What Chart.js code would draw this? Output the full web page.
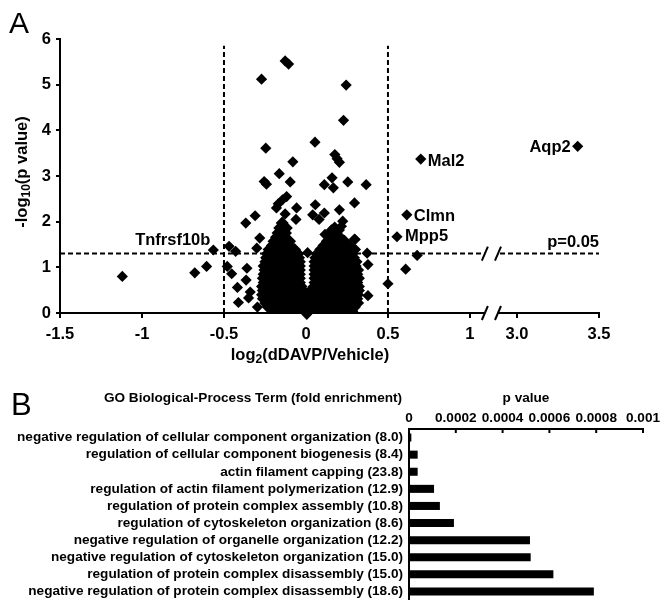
<!DOCTYPE html>
<html>
<head>
<meta charset="utf-8">
<script src="https://cdn.jsdelivr.net/npm/chart.js@4.4.1/dist/chart.umd.min.js"></script>
<style>
  body { margin: 0; background: #fff; }
  #wrap { position: relative; width: 661px; height: 600px; }
  canvas { position: absolute; left: 0; }
  #volcano { top: 0; }
  #goBars { top: 370px; }
</style>
</head>
<body>
<div id="wrap">
  <canvas id="volcano" width="661" height="370"></canvas>
  <canvas id="goBars" width="661" height="230"></canvas>
</div>
<script>
// ---------- Panel A : volcano ----------
const geneNames = ['Aqp2', 'Mal2', 'Clmn', 'Mpp5', 'Tnfrsf10b'];
const geneFC    = [3.37, 0.70, 0.615, 0.555, -0.565];
const geneLogP  = [3.65, 3.37, 2.15, 1.67, 1.38];

// isolated proteins
const otherFC = [-0.127, -0.106, -0.271, 0.245, 0.229, -0.245, 0.055, 0.176, 0.19, 0.204,
  -0.08, -0.163, -0.255, -0.241, -0.096, 0.112, 0.159, 0.167, 0.255, 0.367,
  0.296, -0.169, -0.143, -0.118, -0.18, -0.057, 0.057, 0.204, -0.367, -0.31,
  -0.127, -0.061, 0.041, 0.112, 0.08, 0.224, 0.204, 0.216, 0.155, 0.116, 0.206, 0.296,
  -0.469, -0.429, -0.48, -0.453, -0.418, -0.412, -0.36, -0.365, -0.34, -0.35,
  -0.296, -0.30, -0.282, -0.678, -0.606, -1.12,
  0.378, 0.378, 0.373, 0.30, 0.302, 0.50, 0.608, 0.678, 0.005, 0.01];
const otherLogP = [5.52, 5.45, 5.12, 4.99, 4.22, 3.61, 3.74, 3.47, 3.38, 3.30,
  3.31, 3.05, 2.88, 2.82, 2.87, 2.81, 2.96, 2.74, 2.87, 2.81,
  2.41, 2.39, 2.48, 2.55, 2.30, 2.30, 2.37, 2.26, 1.97, 2.13,
  2.17, 2.05, 2.15, 2.19, 2.05, 2.01, 1.82, 1.90, 1.82, 1.72, 1.68, 1.62,
  1.46, 1.35, 1.02, 0.86, 0.56, 0.23, 0.98, 0.72, 0.46, 0.33,
  0.13, 1.42, 1.64, 0.88, 1.02, 0.80,
  1.06, 0.38, 1.31, 1.61, 1.39, 0.64, 0.96, 1.26, -0.03, 1.32];

// dense cloud, read row by row (one -log10 p level per row)
const blobLogP = [0.04, 0.13, 0.22, 0.31, 0.40, 0.49, 0.58, 0.67, 0.76, 0.85, 0.94,
  1.03, 1.12, 1.21, 1.30, 1.39, 1.48, 1.57, 1.66, 1.75, 1.86, 1.97];
const blobFC = [
  [-0.20, -0.155, -0.10, -0.045, 0.01, 0.065, 0.12, 0.175, 0.23, 0.28],
  [-0.23, -0.185, -0.13, -0.075, -0.02, 0.035, 0.09, 0.145, 0.2, 0.255, 0.295],
  [-0.245, -0.21, -0.155, -0.10, -0.045, 0.01, 0.065, 0.12, 0.175, 0.23, 0.285, 0.315],
  [-0.26, -0.235, -0.18, -0.125, -0.07, -0.015, 0.04, 0.095, 0.15, 0.205, 0.26, 0.31],
  [-0.265, -0.21, -0.155, -0.10, -0.045, 0.0, 0.045, 0.10, 0.155, 0.21, 0.265, 0.315],
  [-0.26, -0.235, -0.18, -0.125, -0.07, -0.02, 0.03, 0.075, 0.13, 0.185, 0.24, 0.295, 0.32],
  [-0.265, -0.21, -0.155, -0.10, -0.03, 0.05, 0.10, 0.155, 0.21, 0.265, 0.32],
  [-0.255, -0.235, -0.18, -0.125, -0.08, -0.04, 0.055, 0.095, 0.15, 0.205, 0.26, 0.31],
  [-0.26, -0.21, -0.155, -0.10, -0.04, 0.055, 0.12, 0.175, 0.23, 0.285, 0.32],
  [-0.255, -0.235, -0.18, -0.125, -0.08, -0.04, 0.055, 0.095, 0.15, 0.205, 0.26, 0.31],
  [-0.25, -0.21, -0.155, -0.10, -0.04, 0.055, 0.12, 0.175, 0.23, 0.285, 0.315],
  [-0.255, -0.235, -0.18, -0.125, -0.08, -0.04, 0.055, 0.095, 0.15, 0.205, 0.26, 0.30],
  [-0.245, -0.21, -0.155, -0.10, -0.04, 0.055, 0.12, 0.175, 0.23, 0.28, 0.305],
  [-0.24, -0.235, -0.18, -0.125, -0.08, -0.045, 0.06, 0.095, 0.15, 0.205, 0.26, 0.29],
  [-0.235, -0.205, -0.15, -0.095, -0.05, 0.07, 0.125, 0.18, 0.235, 0.28],
  [-0.225, -0.18, -0.125, -0.07, 0.09, 0.15, 0.205, 0.255],
  [-0.205, -0.155, -0.105, 0.11, 0.165, 0.22, 0.265],
  [-0.195, -0.15, -0.10, 0.13, 0.185, 0.235],
  [-0.18, -0.135, 0.145, 0.2],
  [-0.17, -0.125, 0.16],
  [-0.16, -0.12, 0.175],
  [-0.145]
];

const xTickValues = [-1.5, -1, -0.5, 0, 0.5, 1, 3.0, 3.5];
const xTickLabels = ['-1.5', '-1', '-0.5', '0', '0.5', '1', '3.0', '3.5'];
const yTickValues = [0, 1, 2, 3, 4, 5, 6];
const foldCutoff = 0.5;
const pCutoff = 1.301;   // -log10(0.05)

// ---------- Panel B : GO terms ----------
const goTerms = [
  'negative regulation of cellular component organization (8.0)',
  'regulation of cellular component biogenesis (8.4)',
  'actin filament capping (23.8)',
  'regulation of actin filament polymerization (12.9)',
  'regulation of protein complex assembly (10.8)',
  'regulation of cytoskeleton organization (8.6)',
  'negative regulation of organelle organization (12.2)',
  'negative regulation of cytoskeleton organization (15.0)',
  'regulation of protein complex disassembly (15.0)',
  'negative regulation of protein complex disassembly (18.6)'
];
const goPValues = [0.00001, 0.000037, 0.000037, 0.000107, 0.000132, 0.000192,
  0.000517, 0.00052, 0.000617, 0.00079];
const goTickValues = [0, 0.0002, 0.0004, 0.0006, 0.0008, 0.001];
const goTickLabels = ['0', '0.0002', '0.0004', '0.0006', '0.0008', '0.001'];

// broken x axis: values beyond the gap are shifted left
const breakShift = 1.713;
function toDisp(v) { return v > 2 ? v - breakShift : v; }

const FONT = "'Liberation Sans', Arial, sans-serif";
const A_SIZE = 16.5;
Chart.defaults.font.family = FONT;
Chart.defaults.color = '#000';

const blobPoints = [];
blobLogP.forEach((p, i) => blobFC[i].forEach(fc => blobPoints.push({ x: fc, y: p })));
const otherPoints = otherFC.map((fc, i) => ({ x: fc, y: otherLogP[i] }));
const genePoints = geneFC.map((fc, i) => ({ x: toDisp(fc), y: geneLogP[i] }));

const diamond = {
  showLine: false, pointStyle: 'rectRot', pointRadius: 5.6,
  pointBackgroundColor: '#000', backgroundColor: '#000', pointBorderWidth: 0,
  clip: false, order: 0
};
const dashed = {
  showLine: true, borderColor: '#000', borderWidth: 2, borderDash: [5, 3],
  pointRadius: 0, fill: false, order: 1
};

function drawRich(ctx, parts, x, y, size) {
  // text with subscripts, centred on x
  const big = 'bold ' + size + 'px ' + FONT;
  const small = 'bold ' + Math.round(size * 0.75) + 'px ' + FONT;
  let w = 0;
  parts.forEach(p => { ctx.font = p.sub ? small : big; p.w = ctx.measureText(p.t).width; w += p.w; });
  let cx = x - w / 2;
  ctx.textAlign = 'left';
  ctx.textBaseline = 'middle';
  parts.forEach(p => {
    ctx.font = p.sub ? small : big;
    ctx.fillText(p.t, cx, p.sub ? y + size * 0.3 : y);
    cx += p.w;
  });
}

// label offsets next to each gene point
const geneLabelPos = [[-7, 1, 'right'], [7, 2, 'left'], [7, 2, 'left'], [8, 0, 'left'], [-3, -10, 'right']];

const volcanoExtras = {
  id: 'volcanoExtras',
  afterDraw(chart) {
    const ctx = chart.ctx, xs = chart.scales.x, ys = chart.scales.y;
    ctx.save();
    // break marks  / /
    const x1 = xs.getPixelForValue(1.091), x2 = xs.getPixelForValue(1.171);
    [ys.getPixelForValue(0), ys.getPixelForValue(pCutoff)].forEach(py => {
      ctx.fillStyle = '#fff';
      ctx.fillRect(x1, py - 3, x2 - x1, 6);
      ctx.strokeStyle = '#000';
      ctx.lineWidth = 2;
      ctx.setLineDash([]);
      [x1, x2].forEach(px => {
        ctx.beginPath();
        ctx.moveTo(px - 3, py + 7);
        ctx.lineTo(px + 3, py - 7);
        ctx.stroke();
      });
    });
    ctx.fillStyle = '#000';
    // gene names
    const meta = chart.getDatasetMeta(2);
    ctx.font = 'bold ' + A_SIZE + 'px ' + FONT;
    ctx.textBaseline = 'middle';
    meta.data.forEach((pt, i) => {
      const o = geneLabelPos[i];
      ctx.textAlign = o[2];
      ctx.fillText(geneNames[i], pt.x + o[0], pt.y + o[1]);
    });
    ctx.textAlign = 'right';
    ctx.fillText('p=0.05', xs.getPixelForValue(xs.max), ys.getPixelForValue(pCutoff) - 11);
    // axis titles
    drawRich(ctx, [{ t: 'log' }, { t: '2', sub: true }, { t: '(dDAVP/Vehicle)' }], 310, 355, A_SIZE);
    ctx.save();
    ctx.translate(22, 172);
    ctx.rotate(-Math.PI / 2);
    drawRich(ctx, [{ t: '-log' }, { t: '10', sub: true }, { t: '(p value)' }], 0, 0, A_SIZE);
    ctx.restore();
    ctx.font = '30px ' + FONT;
    ctx.textAlign = 'left';
    ctx.textBaseline = 'alphabetic';
    ctx.fillText('A', 9, 33);
    ctx.restore();
  }
};

new Chart(document.getElementById('volcano'), {
  type: 'scatter',
  data: {
    datasets: [
      Object.assign({ data: blobPoints }, diamond, { pointRadius: 6.5, clip: { left: false, right: false, top: false, bottom: 0 } }),
      Object.assign({ data: otherPoints }, diamond),
      Object.assign({ data: genePoints }, diamond),
      Object.assign({ data: [{ x: -foldCutoff, y: 0 }, { x: -foldCutoff, y: 5.85 }] }, dashed),
      Object.assign({ data: [{ x: foldCutoff, y: 0 }, { x: foldCutoff, y: 5.85 }] }, dashed),
      Object.assign({ data: [{ x: -1.5, y: pCutoff }, { x: toDisp(3.5), y: pCutoff }] }, dashed)
    ]
  },
  options: {
    responsive: false, animation: false, devicePixelRatio: 1,
    layout: { padding: { left: 20, right: 62, top: 39, bottom: 17 } },
    plugins: { legend: { display: false }, tooltip: { enabled: false } },
    scales: {
      x: {
        type: 'linear', min: -1.5, max: toDisp(3.5),
        afterBuildTicks(s) { s.ticks = xTickValues.map(v => ({ value: toDisp(v) })); },
        afterFit(s) { s.height = 40; s.paddingLeft = 0; s.paddingRight = 0; },
        ticks: {
          autoSkip: false, maxRotation: 0, padding: 7, color: '#000',
          font: { size: A_SIZE, weight: 'bold' },
          callback: (v, i) => xTickLabels[i]
        },
        grid: { drawOnChartArea: false, tickLength: 5, color: '#000', lineWidth: 2 },
        border: { color: '#000', width: 2 }
      },
      y: {
        min: 0, max: 6,
        afterBuildTicks(s) { s.ticks = yTickValues.map(v => ({ value: v })); },
        afterFit(s) { s.width = 40; s.paddingTop = 0; s.paddingBottom = 0; },
        ticks: { padding: 5, color: '#000', font: { size: A_SIZE, weight: 'bold' }, callback: v => String(v) },
        grid: { drawOnChartArea: false, tickLength: 4, color: '#000', lineWidth: 2 },
        border: { color: '#000', width: 2 }
      }
    }
  },
  plugins: [volcanoExtras]
});

const goExtras = {
  id: 'goExtras',
  afterDraw(chart) {
    const ctx = chart.ctx, xs = chart.scales.x;
    ctx.save();
    ctx.strokeStyle = '#000';
    ctx.fillStyle = '#000';
    ctx.lineWidth = 2;
    // small ticks under the top axis
    xs.ticks.forEach(t => {
      const px = xs.getPixelForValue(t.value);
      ctx.beginPath();
      ctx.moveTo(px, xs.bottom);
      ctx.lineTo(px, xs.bottom + 4);
      ctx.stroke();
    });
    ctx.font = 'bold 13.6px ' + FONT;
    ctx.textAlign = 'center';
    ctx.textBaseline = 'middle';
    ctx.fillText('GO Biological-Process Term (fold enrichment)', 253, 28);
    ctx.fillText('p value', (xs.left + xs.right) / 2, 28);
    ctx.font = '31px ' + FONT;
    ctx.textAlign = 'left';
    ctx.textBaseline = 'alphabetic';
    ctx.fillText('B', 11, 45);
    ctx.restore();
  }
};

new Chart(document.getElementById('goBars'), {
  type: 'bar',
  data: {
    labels: goTerms,
    datasets: [{ data: goPValues, backgroundColor: '#000', borderWidth: 0, barPercentage: 0.47, categoryPercentage: 1 }]
  },
  options: {
    indexAxis: 'y', responsive: false, animation: false, devicePixelRatio: 1,
    layout: { padding: { left: 0, right: 18, top: 0, bottom: 0 } },
    plugins: { legend: { display: false }, tooltip: { enabled: false } },
    scales: {
      x: {
        position: 'top', min: 0, max: 0.001,
        afterBuildTicks(s) { s.ticks = goTickValues.map(v => ({ value: v })); },
        afterFit(s) { s.height = 59; s.paddingLeft = 0; s.paddingRight = 0; },
        ticks: {
          autoSkip: false, maxRotation: 0, padding: 3, color: '#000',
          font: { size: 13.6, weight: 'bold' },
          callback: (v, i) => goTickLabels[i]
        },
        grid: { display: false, drawTicks: false },
        border: { color: '#000', width: 2 }
      },
      y: {
        afterFit(s) { s.width = 409; s.paddingTop = 0; s.paddingBottom = 0; },
        ticks: { autoSkip: false, padding: 6, color: '#000', font: { size: 13.6, weight: 'bold' } },
        grid: { display: false, drawTicks: false },
        border: { color: '#000', width: 2 }
      }
    }
  },
  plugins: [goExtras]
});
</script>
</body>
</html>
